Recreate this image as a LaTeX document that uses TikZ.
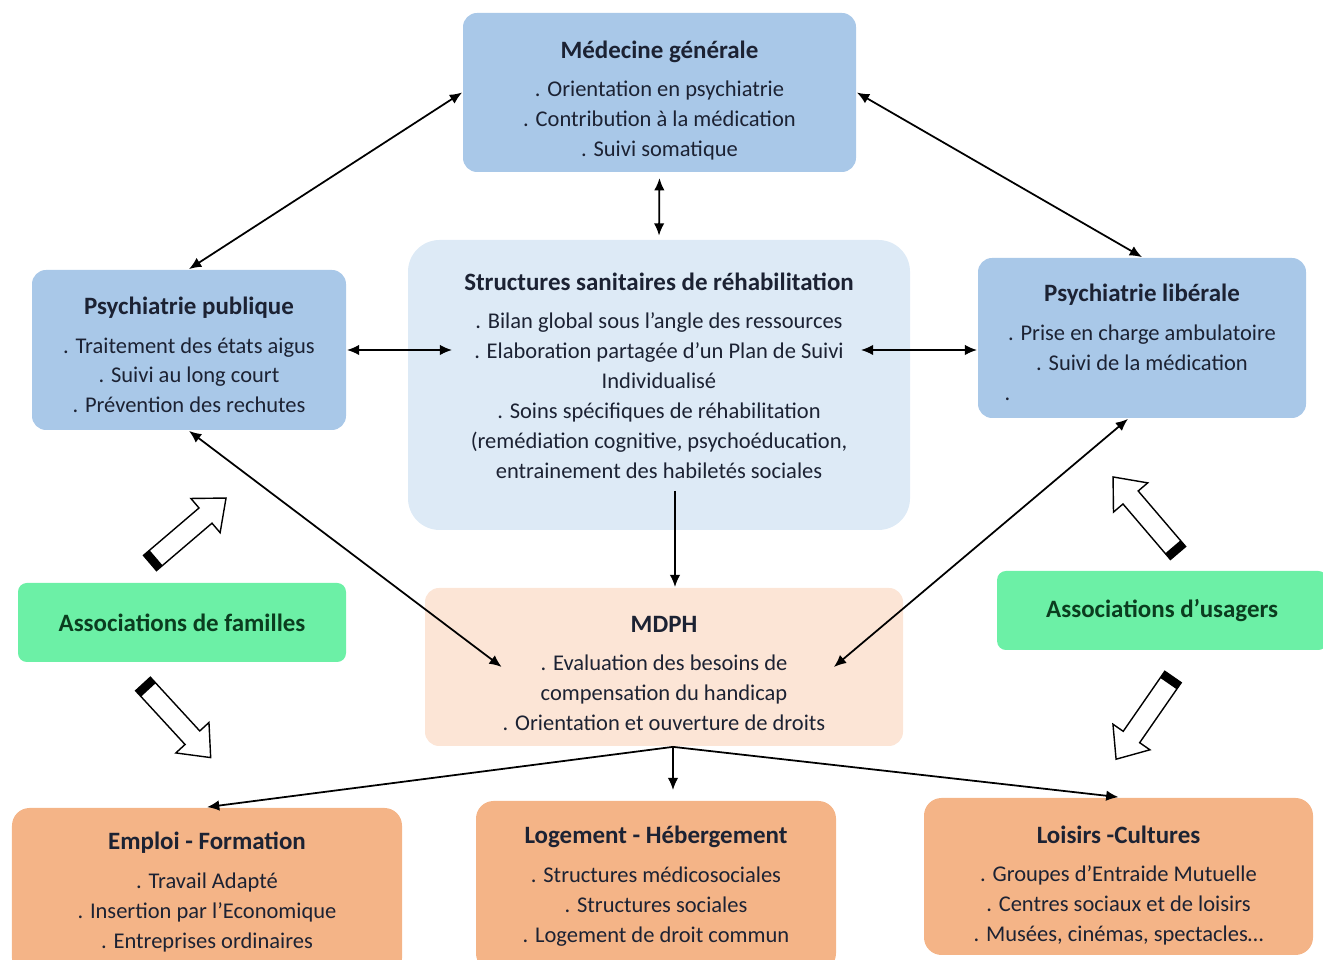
\documentclass[tikz,border=0pt]{standalone}
\usepackage{fontspec}
\setmainfont{Carlito}
\usetikzlibrary{arrows.meta}
\definecolor{medblue}{HTML}{A9C8E8}
\definecolor{paleblue}{HTML}{DDEAF6}
\definecolor{assocgreen}{HTML}{6CF0A6}
\definecolor{peach}{HTML}{FCE5D6}
\definecolor{orangebox}{HTML}{F4B487}
\definecolor{textdark}{HTML}{1C2233}
\definecolor{textgreen}{HTML}{0B3D1F}
\newcommand{\boxtitle}[1]{{\fontsize{14.2}{17}\selectfont\bfseries #1}}
\tikzset{
  box/.style={rounded corners=8pt, align=center, inner sep=4pt, text=textdark,
    font=\fontsize{12.8}{17}\selectfont},
  hollow/.pic={
    \draw[line width=0.8pt, fill=white] (0,-0.2) -- (1.46,-0.2) -- (1.46,-0.45) -- (2,0)
      -- (1.46,0.45) -- (1.46,0.2) -- (0,0.2) -- cycle;
    \fill (0,-0.2) rectangle (0.16,0.2);
  }
}
\begin{document}
\begin{tikzpicture}[>={Latex[length=7pt,width=6pt]}, line width=1pt]
  \useasboundingbox (0,0) rectangle (26.46,19.2);

  \node[box, fill=medblue, minimum width=7.86cm, minimum height=3.18cm] (1) at (13.19,17.35)
    {\boxtitle{Médecine générale}\\[5pt] . Orientation en psychiatrie\\ . Contribution à la médication\\ . Suivi somatique\\[-24pt]};
  \node[box, fill=medblue, minimum width=6.28cm, minimum height=3.2cm] (2) at (3.78,12.2)
    {\boxtitle{Psychiatrie publique}\\[5pt] . Traitement des états aigus\\ . Suivi au long court\\ . Prévention des rechutes\\[-22.5pt]};
  \node[box, fill=paleblue, rounded corners=18pt, minimum width=10.04cm, minimum height=5.8cm] (3) at (13.18,11.5)
    {\boxtitle{Structures sanitaires de réhabilitation}\\[5pt] . Bilan global sous l’angle des ressources\\
     . Elaboration partagée d’un Plan de Suivi\\ Individualisé\\ . Soins spécifiques de réhabilitation\\
     (remédiation cognitive, psychoéducation,\\ entrainement des habiletés sociales\\[-6pt]};
  \node[box, fill=medblue, minimum width=6.56cm, minimum height=3.2cm] (4) at (22.84,12.44)
    {\boxtitle{Psychiatrie libérale}\\[5pt] . Prise en charge ambulatoire\\ . Suivi de la médication\\ \makebox[5.5cm][l]{.}\\[-22pt]};
  \node[box, fill=assocgreen, rounded corners=5pt, text=textgreen, minimum width=6.56cm, minimum height=1.58cm] (5) at (3.64,6.75)
    {\boxtitle{Associations de familles}};
  \node[box, fill=peach, minimum width=9.56cm, minimum height=3.16cm] (6) at (13.28,5.86)
    {\boxtitle{MDPH}\\[5pt] . Evaluation des besoins de\\ compensation du handicap\\ . Orientation et ouverture de droits\\[-24pt]};
  \node[box, fill=assocgreen, rounded corners=5pt, text=textgreen, minimum width=6.6cm, minimum height=1.58cm] (7) at (26.56,6.99) [anchor=east]
    {\boxtitle{Associations d’usagers}};
  \node[box, fill=orangebox, rounded corners=10pt, minimum width=7.8cm, minimum height=3.36cm] (8) at (4.14,1.36)
    {\boxtitle{Emploi - Formation}\\[5pt] . Travail Adapté\\ . Insertion par l’Economique\\ . Entreprises ordinaires};
  \node[box, fill=orangebox, rounded corners=10pt, minimum width=7.2cm, minimum height=3.4cm] (9) at (13.12,1.48)
    {\boxtitle{Logement - Hébergement}\\[5pt] . Structures médicosociales\\ . Structures sociales\\ . Logement de droit commun};
  \node[box, fill=orangebox, rounded corners=10pt, minimum width=7.78cm, minimum height=3.14cm] (10) at (22.37,1.67)
    {\boxtitle{Loisirs -Cultures}\\[5pt] . Groupes d’Entraide Mutuelle\\ . Centres sociaux et de loisirs\\ . Musées, cinémas, spectacles…\\[-25pt]};

  \draw[<->] (1.west) -- (2.north);
  \draw[<->] (1.east) -- (4.north);
  \draw[<->, shorten <=3pt, shorten >=2pt] (1.south) -- (3.north);
  \draw[<->] (2.east) -- ([xshift=0.9cm]3.west |- 2.east);
  \draw[<->] ([xshift=-1cm]3.east |- 2.east) -- (4.west |- 2.east);
  \draw[<->] (2.south) -- ([xshift=1.55cm]6.west);
  \draw[<->] ([xshift=-0.28cm]4.south) -- ([xshift=-1.4cm]6.east);
  \draw[->] ([xshift=0.32cm,yshift=0.8cm]3.south) -- ([xshift=0.32cm]3.south |- 6.north);

  \coordinate (b) at ([xshift=0.18cm]6.south);
  \draw[->, shorten >=0.2cm] (b) -- (b |- 9.north);
  \draw[->] (b) -- (8.north);
  \draw[->] (b) -- (10.north);

  \pic[rotate=40.5] at (3.0,7.94) {hollow};
  \pic[rotate=-47.4] at (2.86,5.52) {hollow};
  \pic[rotate=130.5] at (23.56,8.14) {hollow};
  \pic[rotate=235.3] at (23.46,5.66) {hollow};
\end{tikzpicture}
\end{document}
